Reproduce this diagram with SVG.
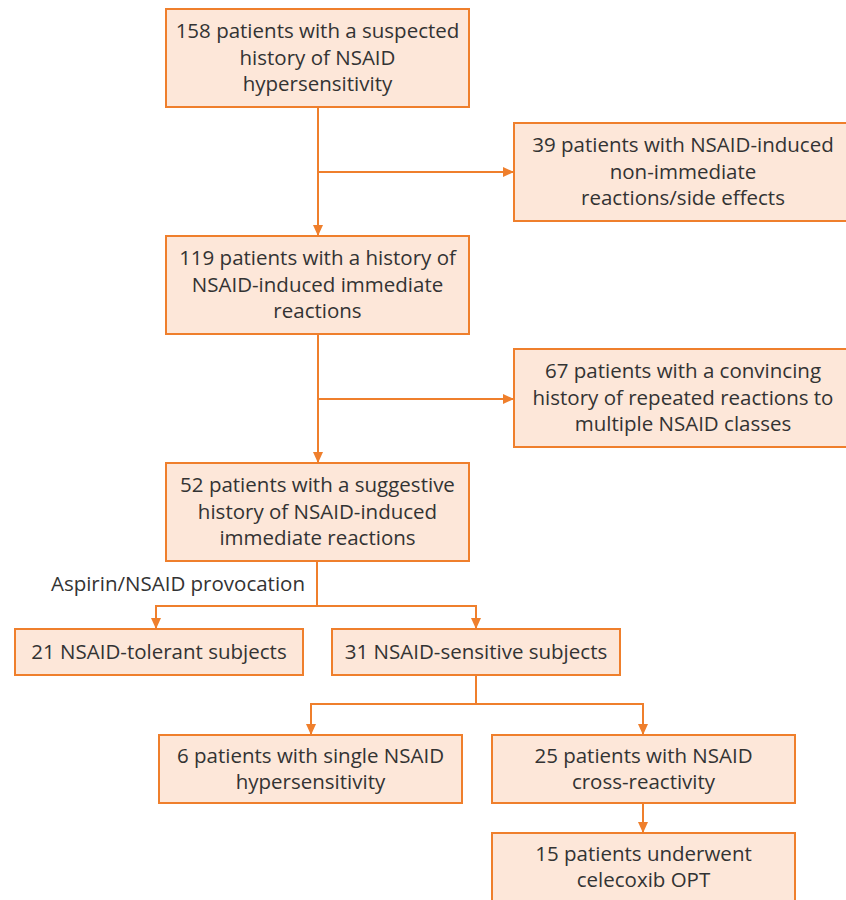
<svg xmlns="http://www.w3.org/2000/svg" width="846" height="900" viewBox="0 0 846 900">
<style>
.box{fill:#fde7d9;stroke:#ef7f2c;stroke-width:2}
.t{font-family:"Open Sans","Liberation Sans",sans-serif;font-size:20.5px;fill:#333;text-anchor:middle}
.c{fill:none;stroke:#ef7f2c;stroke-width:2}
</style>
<defs>
<marker id="ah" markerUnits="userSpaceOnUse" markerWidth="12" markerHeight="12" refX="11" refY="6" orient="auto" viewBox="0 0 12 12">
<path d="M0,1 L11,6 L0,11 z" fill="#ef7f2c"/>
</marker>
</defs>
<rect width="846" height="900" fill="#fff"/>
<g id="connectors">
<path class="c" d="M318,107 V236" marker-end="url(#ah)"/>
<path class="c" d="M318,172 H514" marker-end="url(#ah)"/>
<path class="c" d="M318,334 V463" marker-end="url(#ah)"/>
<path class="c" d="M318,399 H514" marker-end="url(#ah)"/>
<path class="c" d="M317,561 V606"/>
<path class="c" d="M156,606 H476"/>
<path class="c" d="M156,605 V629" marker-end="url(#ah)"/>
<path class="c" d="M476,605 V629" marker-end="url(#ah)"/>
<path class="c" d="M476,675 V704"/>
<path class="c" d="M311,704 H643"/>
<path class="c" d="M311,703 V735" marker-end="url(#ah)"/>
<path class="c" d="M643,703 V735" marker-end="url(#ah)"/>
<path class="c" d="M643,803 V833" marker-end="url(#ah)"/>
</g>
<g id="n158">
<rect class="box" x="166" y="9" width="303" height="98"/>
<text class="t" x="317.5" y="38">158 patients with a suspected</text>
<text class="t" x="317.5" y="64.5">history of NSAID</text>
<text class="t" x="317.5" y="91">hypersensitivity</text>
</g>
<g id="n39">
<rect class="box" x="514" y="123" width="338" height="98"/>
<text class="t" x="683" y="152">39 patients with NSAID-induced</text>
<text class="t" x="683" y="178.5">non-immediate</text>
<text class="t" x="683" y="205">reactions/side effects</text>
</g>
<g id="n119">
<rect class="box" x="166" y="236" width="303" height="98"/>
<text class="t" x="317.5" y="265">119 patients with a history of</text>
<text class="t" x="317.5" y="291.5">NSAID-induced immediate</text>
<text class="t" x="317.5" y="318">reactions</text>
</g>
<g id="n67">
<rect class="box" x="514" y="349" width="338" height="98"/>
<text class="t" x="683" y="378">67 patients with a convincing</text>
<text class="t" x="683" y="404.5">history of repeated reactions to</text>
<text class="t" x="683" y="431">multiple NSAID classes</text>
</g>
<g id="n52">
<rect class="box" x="166" y="463" width="303" height="98"/>
<text class="t" x="317.5" y="492">52 patients with a suggestive</text>
<text class="t" x="317.5" y="518.5">history of NSAID-induced</text>
<text class="t" x="317.5" y="545">immediate reactions</text>
</g>
<g id="label-provocation">
<text class="t" x="305" y="591" style="text-anchor:end">Aspirin/NSAID provocation</text>
</g>
<g id="n21">
<rect class="box" x="15" y="629" width="288" height="46"/>
<text class="t" x="159" y="659">21 NSAID-tolerant subjects</text>
</g>
<g id="n31">
<rect class="box" x="332" y="629" width="288" height="46"/>
<text class="t" x="476" y="659">31 NSAID-sensitive subjects</text>
</g>
<g id="n6">
<rect class="box" x="159" y="735" width="303" height="68"/>
<text class="t" x="310.5" y="763">6 patients with single NSAID</text>
<text class="t" x="310.5" y="789">hypersensitivity</text>
</g>
<g id="n25">
<rect class="box" x="492" y="735" width="303" height="68"/>
<text class="t" x="643.5" y="763">25 patients with NSAID</text>
<text class="t" x="643.5" y="789">cross-reactivity</text>
</g>
<g id="n15">
<rect class="box" x="492" y="833" width="303" height="80"/>
<text class="t" x="643.5" y="861">15 patients underwent</text>
<text class="t" x="643.5" y="887">celecoxib OPT</text>
</g>
</svg>
